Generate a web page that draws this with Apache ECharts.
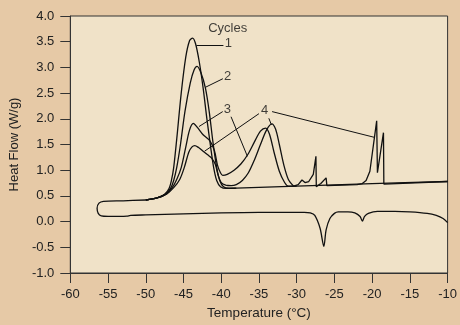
<!DOCTYPE html>
<html>
<head>
<meta charset="utf-8">
<script src="https://cdn.jsdelivr.net/npm/echarts@6/dist/echarts.min.js"></script>
<style>
html,body{margin:0;padding:0;background:#e6c9a6;}
#main{width:460px;height:325px;}
</style>
</head>
<body>
<div id="main"></div>
<script>
// cooling trace (lower), loop at the cold end, then start of heating trace
var baseCurve=[[-10,-0.02],[-10.6,0.06],[-11.5,0.12],[-12.7,0.16],[-15,0.19],[-17,0.2],[-19.3,0.2],[-20.5,0.16],[-21.0,0.1],[-21.3,0.01],[-21.6,0.1],[-22.3,0.17],[-23.2,0.19],[-24.5,0.19],[-25.0,0.16],[-25.6,0.06],[-26.1,-0.16],[-26.4,-0.48],[-26.9,-0.13],[-27.6,0.12],[-28.2,0.17],[-29,0.18],[-35,0.18],[-40,0.17],[-45,0.15],[-50,0.13],[-52,0.12],[-52.5,0.105],[-53.5,0.1],[-55,0.1],[-55.9,0.11],[-56.3,0.16],[-56.45,0.26],[-56.2,0.36],[-55.6,0.395],[-53,0.405],[-50,0.42]];
var cycle1=[[-50,0.42],[-48.5,0.46],[-47.5,0.53],[-46.9,0.65],[-46.6,0.8],[-46.3,1.05],[-45.9,1.6],[-45.3,2.5],[-44.7,3.2],[-44.2,3.52],[-43.8,3.57],[-43.4,3.46],[-42.9,3.1],[-42.4,2.6],[-41.9,2.0],[-41.4,1.45],[-41.0,1.05],[-40.6,0.8],[-40.1,0.68],[-39.3,0.645],[-38,0.65],[-30,0.69],[-20,0.74],[-10,0.78]];
var cycle2=[[-50,0.42],[-48.5,0.46],[-47.4,0.53],[-46.7,0.65],[-46.3,0.8],[-45.9,1.05],[-45.4,1.5],[-44.8,2.15],[-44.1,2.7],[-43.6,2.95],[-43.2,3.02],[-42.7,2.9],[-42.1,2.6],[-41.6,2.15],[-41.1,1.55],[-40.6,1.05],[-40.2,0.8],[-39.7,0.68],[-39,0.65],[-38,0.65]];
var cycle3=[[-50,0.42],[-48.5,0.46],[-47.3,0.54],[-46.5,0.66],[-45.9,0.82],[-45.3,1.05],[-44.7,1.45],[-44.2,1.78],[-43.7,1.91],[-43.2,1.84],[-42.4,1.69],[-41.5,1.57],[-40.9,1.38],[-40.5,1.1],[-40.1,0.95],[-39.8,0.9],[-39.2,0.92],[-38.3,1.0],[-37.4,1.12],[-36.5,1.3],[-35.6,1.55],[-34.8,1.76],[-34.1,1.82],[-33.6,1.7],[-33.0,1.35],[-32.3,0.98],[-31.6,0.76],[-31.1,0.69],[-30,0.69]];
var cycle4=[[-50,0.42],[-48.5,0.46],[-47.2,0.54],[-46.3,0.66],[-45.5,0.82],[-44.9,1.05],[-44.3,1.35],[-43.9,1.45],[-43.5,1.48],[-43.0,1.44],[-42.4,1.37],[-41.8,1.3],[-41.3,1.24],[-40.8,1.12],[-40.4,0.9],[-40.0,0.76],[-39.4,0.71],[-38.7,0.7],[-38,0.72],[-37.2,0.8],[-36.4,0.95],[-35.6,1.2],[-34.8,1.5],[-34.0,1.78],[-33.3,1.9],[-32.8,1.8],[-32.3,1.5],[-31.7,1.1],[-31.1,0.82],[-30.4,0.69]];
// sharp crystallisation spikes of cycle 4 (drawn without smoothing)
var cycle4Spikes=[[-30.4,0.69],[-29.8,0.72],[-29.3,0.81],[-28.9,0.76],[-28.4,0.78],[-27.8,0.92],[-27.45,1.27],[-27.4,0.68],[-26.8,0.74],[-26.1,0.85],[-26.0,0.7],[-24,0.71],[-22,0.72],[-21.3,0.74],[-20.8,0.8],[-20.3,0.98],[-19.4,1.96],[-19.3,0.95],[-18.5,1.73],[-18.45,0.73],[-10,0.78]];

var annoText=['Cycles','1','2','3','4'];
var annoPos=[[-39.15,3.76],[-39.06,3.46],[-39.15,2.83],[-39.2,2.19],[-34.25,2.17]];
var leaders=[
	[[-43.29,3.44],[-39.71,3.44]],
	[[-42.07,2.615],[-39.78,2.78]],
	[[-42.94,1.85],[-39.80,2.14]],
	[[-38.70,2.04],[-36.53,1.27]],
	[[-35.0,2.10],[-42.2,1.37]],
	[[-33.26,2.14],[-19.72,1.64]],
	[[-33.69,2.01],[-33.34,1.88]]
];

var chart=echarts.init(document.getElementById('main'));
var lineStyle={color:'#111',width:1.3};
function curve(d,smooth){
	return {type:'line',data:d,showSymbol:false,symbol:'none',smooth:smooth,
		lineStyle:lineStyle,z:3,animation:false};
}
var leaderData=[];
for(var i=0;i<leaders.length;i++){
	leaderData.push({coords:leaders[i]});
}
var labelData=[];
for(var j=0;j<annoText.length;j++){
	labelData.push({value:annoPos[j],name:annoText[j]});
}
var option={
	backgroundColor:'#e6c9a6',
	animation:false,
	grid:{left:69,top:16,right:9,bottom:48,show:true,backgroundColor:'#f0e2c8',borderColor:'#333',borderWidth:1},
	xAxis:{
		type:'value',min:-60,max:-10,interval:5,
		name:'Temperature (°C)',nameLocation:'middle',nameGap:33,
		nameTextStyle:{fontFamily:'Liberation Sans',fontSize:13.5,color:'#222'},
		axisLine:{show:true,onZero:false,lineStyle:{color:'#333'}},
		axisTick:{show:true,inside:false,length:10,lineStyle:{color:'#333'}},
		axisLabel:{fontFamily:'Liberation Sans',fontSize:13,color:'#222',margin:15},
		splitLine:{show:false}
	},
	yAxis:{
		type:'value',min:-1,max:4,interval:0.5,
		name:'Heat Flow (W/g)',nameLocation:'middle',nameGap:40,
		nameTextStyle:{fontFamily:'Liberation Sans',fontSize:13,color:'#222'},
		axisLine:{show:true,onZero:false,lineStyle:{color:'#333'}},
		axisTick:{show:true,inside:false,length:10,lineStyle:{color:'#333'}},
		axisLabel:{fontFamily:'Liberation Sans',fontSize:13,color:'#222',margin:16,
			formatter:function(v){return v.toFixed(1);}},
		splitLine:{show:false}
	},
	series:[
		curve(baseCurve,0.3),
		curve(cycle1,0.3),
		curve(cycle2,0.3),
		curve(cycle3,0.3),
		curve(cycle4,0.3),
		curve(cycle4Spikes,false),
		{type:'lines',coordinateSystem:'cartesian2d',data:leaderData,
			lineStyle:{color:'#111',width:1,opacity:1},z:4,animation:false},
		{type:'scatter',data:labelData,symbolSize:0,z:5,animation:false,
			label:{show:true,position:'inside',formatter:'{b}',
				fontFamily:'Liberation Sans',fontSize:13,color:'#111'}}
	]
};
chart.setOption(option);
</script>
</body>
</html>
